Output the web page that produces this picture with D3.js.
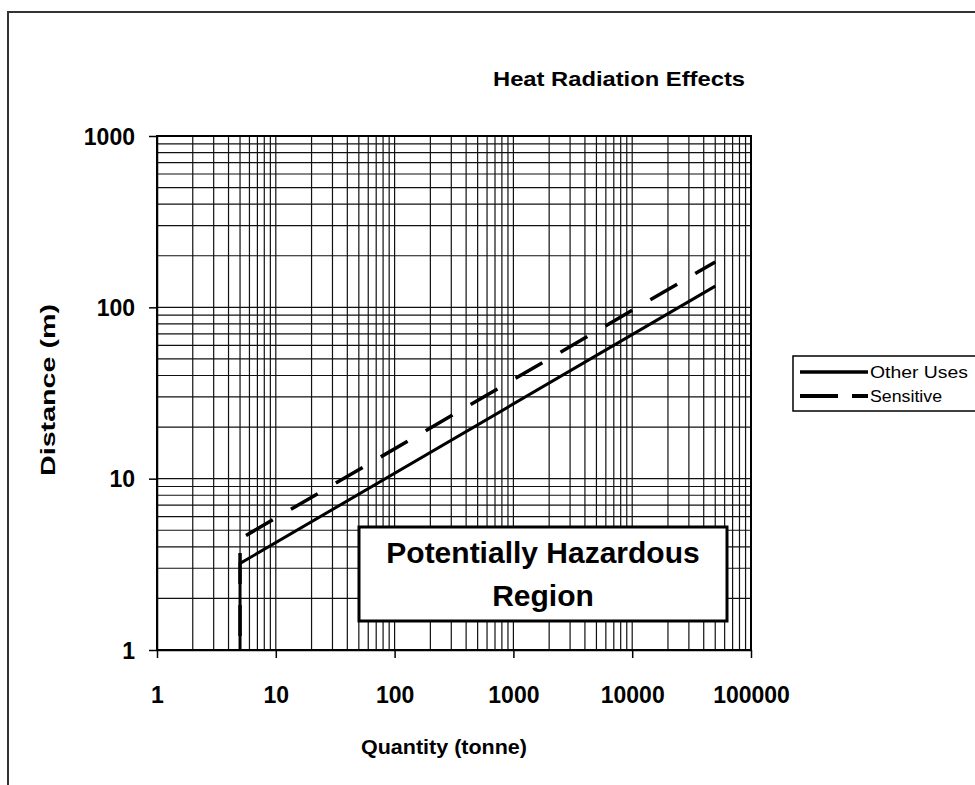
<!DOCTYPE html>
<html lang="en">
<head>
    <meta charset="UTF-8">
    <title>Heat Radiation Effects</title>
    <script src="https://d3js.org/d3.v7.min.js"></script>
</head>
<style>
    *{margin: 0;padding: 0}
    body{background: #fff;}
    svg{font-family: "Liberation Sans", Arial, sans-serif;}
    .grid line{stroke: #111; stroke-width: 1.2;}
    .axis text{font-weight: bold; font-size: 23px; fill: #000;}
    .axis path, .axis line{stroke: #000; stroke-width: 1.5;}
</style>
<body>
<div id="chart"></div>
<script>
    // tick labels
    var qtyTicks = [1, 10, 100, 1000, 10000, 100000];
    var distTicks = [1, 10, 100, 1000];

    // series (quantity in tonne, distance in m)
    var otherQty = [5, 5, 50000];
    var otherDist = [1, 3.2, 133];
    var sensQty = [5, 5, 50000];
    var sensDist = [1, 4.45, 184];

    var seriesNames = ['Other Uses', 'Sensitive'];

    var width = 975, height = 785;
    var plot = {left: 157, right: 751, top: 136, bottom: 650};

    var svg = d3.select('#chart').append('svg')
        .attr('width', width)
        .attr('height', height);

    svg.append('rect').attr('width', width).attr('height', height).attr('fill', '#fff');

    // outer chart frame (cut off at right and bottom)
    svg.append('rect')
        .attr('x', 8).attr('y', 12)
        .attr('width', width + 20).attr('height', height + 20)
        .attr('fill', 'none').attr('stroke', '#333').attr('stroke-width', 2);

    var x = d3.scaleLog().domain([1, 100000]).range([plot.left, plot.right]);
    var y = d3.scaleLog().domain([1, 1000]).range([plot.bottom, plot.top]);

    /* grid start */
    var grid = svg.append('g').attr('class', 'grid');
    grid.selectAll('.vx')
        .data(x.ticks())
        .enter().append('line')
        .attr('x1', function (d) { return x(d); })
        .attr('x2', function (d) { return x(d); })
        .attr('y1', plot.top).attr('y2', plot.bottom);
    grid.selectAll('.hy')
        .data(y.ticks())
        .enter().append('line')
        .attr('y1', function (d) { return y(d); })
        .attr('y2', function (d) { return y(d); })
        .attr('x1', plot.left).attr('x2', plot.right);

    svg.append('rect')
        .attr('x', plot.left).attr('y', plot.top)
        .attr('width', plot.right - plot.left).attr('height', plot.bottom - plot.top)
        .attr('fill', 'none').attr('stroke', '#000').attr('stroke-width', 2);
    /* grid end */

    /* axes start */
    var xAxis = d3.axisBottom(x).tickValues(qtyTicks).tickFormat(d3.format('d'))
        .tickSizeInner(8).tickSizeOuter(0).tickPadding(29);
    svg.append('g').attr('class', 'axis')
        .attr('transform', 'translate(0,' + plot.bottom + ')')
        .call(xAxis);

    var yAxis = d3.axisLeft(y).tickValues(distTicks).tickFormat(d3.format('d'))
        .tickSizeInner(8).tickSizeOuter(0).tickPadding(14);
    svg.append('g').attr('class', 'axis')
        .attr('transform', 'translate(' + plot.left + ',0)')
        .call(yAxis)
        .selectAll('text').attr('dy', '0.36em');
    /* axes end */

    /* hazard box */
    var hz = svg.append('g');
    hz.append('rect')
        .attr('x', 359).attr('y', 527).attr('width', 368).attr('height', 94)
        .attr('fill', '#fff').attr('stroke', '#000').attr('stroke-width', 3);
    hz.append('text').attr('x', 543).attr('y', 563).attr('text-anchor', 'middle')
        .attr('font-size', 30).attr('font-weight', 'bold').text('Potentially Hazardous');
    hz.append('text').attr('x', 543).attr('y', 606).attr('text-anchor', 'middle')
        .attr('font-size', 30).attr('font-weight', 'bold').text('Region');

    /* lines */
    var line = d3.line()
        .x(function (d) { return x(d[0]); })
        .y(function (d) { return y(d[1]); });

    svg.append('path')
        .datum(sensQty.map(function (q, i) { return [q, sensDist[i]]; }))
        .attr('fill', 'none').attr('stroke', '#000').attr('stroke-width', 3.5)
        .attr('stroke-dasharray', '31,21').attr('stroke-dashoffset', 38)
        .attr('d', line);

    svg.append('path')
        .datum(otherQty.map(function (q, i) { return [q, otherDist[i]]; }))
        .attr('fill', 'none').attr('stroke', '#000').attr('stroke-width', 3)
        .attr('d', line);

    /* titles */
    svg.append('text').attr('x', 619).attr('y', 86).attr('text-anchor', 'middle')
        .attr('font-size', 21).attr('font-weight', 'bold')
        .attr('textLength', 252).attr('lengthAdjust', 'spacingAndGlyphs')
        .text('Heat Radiation Effects');
    svg.append('text').attr('x', 444).attr('y', 754).attr('text-anchor', 'middle')
        .attr('font-size', 21).attr('font-weight', 'bold')
        .attr('textLength', 166).attr('lengthAdjust', 'spacingAndGlyphs')
        .text('Quantity (tonne)');
    svg.append('text').attr('transform', 'translate(55,390) rotate(-90)').attr('text-anchor', 'middle')
        .attr('font-size', 21).attr('font-weight', 'bold')
        .attr('textLength', 172).attr('lengthAdjust', 'spacingAndGlyphs')
        .text('Distance (m)');

    /* legend */
    var lg = svg.append('g');
    lg.append('rect').attr('x', 793).attr('y', 356).attr('width', 200).attr('height', 55)
        .attr('fill', '#fff').attr('stroke', '#000').attr('stroke-width', 1.5);
    var lgItems = lg.selectAll('.item').data(seriesNames).enter().append('g')
        .attr('transform', function (d, i) { return 'translate(0,' + (372 + i * 24) + ')'; });
    lgItems.append('line')
        .attr('x1', 800).attr('x2', 868).attr('y1', 0).attr('y2', 0)
        .attr('stroke', '#000').attr('stroke-width', function (d, i) { return i ? 4 : 3.5; })
        .attr('stroke-dasharray', function (d, i) { return i ? '38,14' : null; });
    lgItems.append('text').attr('x', 870).attr('y', 6)
        .attr('font-size', 16)
        .attr('textLength', function (d, i) { return i ? 72 : 98; })
        .attr('lengthAdjust', 'spacingAndGlyphs')
        .text(function (d) { return d; });
</script>
</body>
</html>
